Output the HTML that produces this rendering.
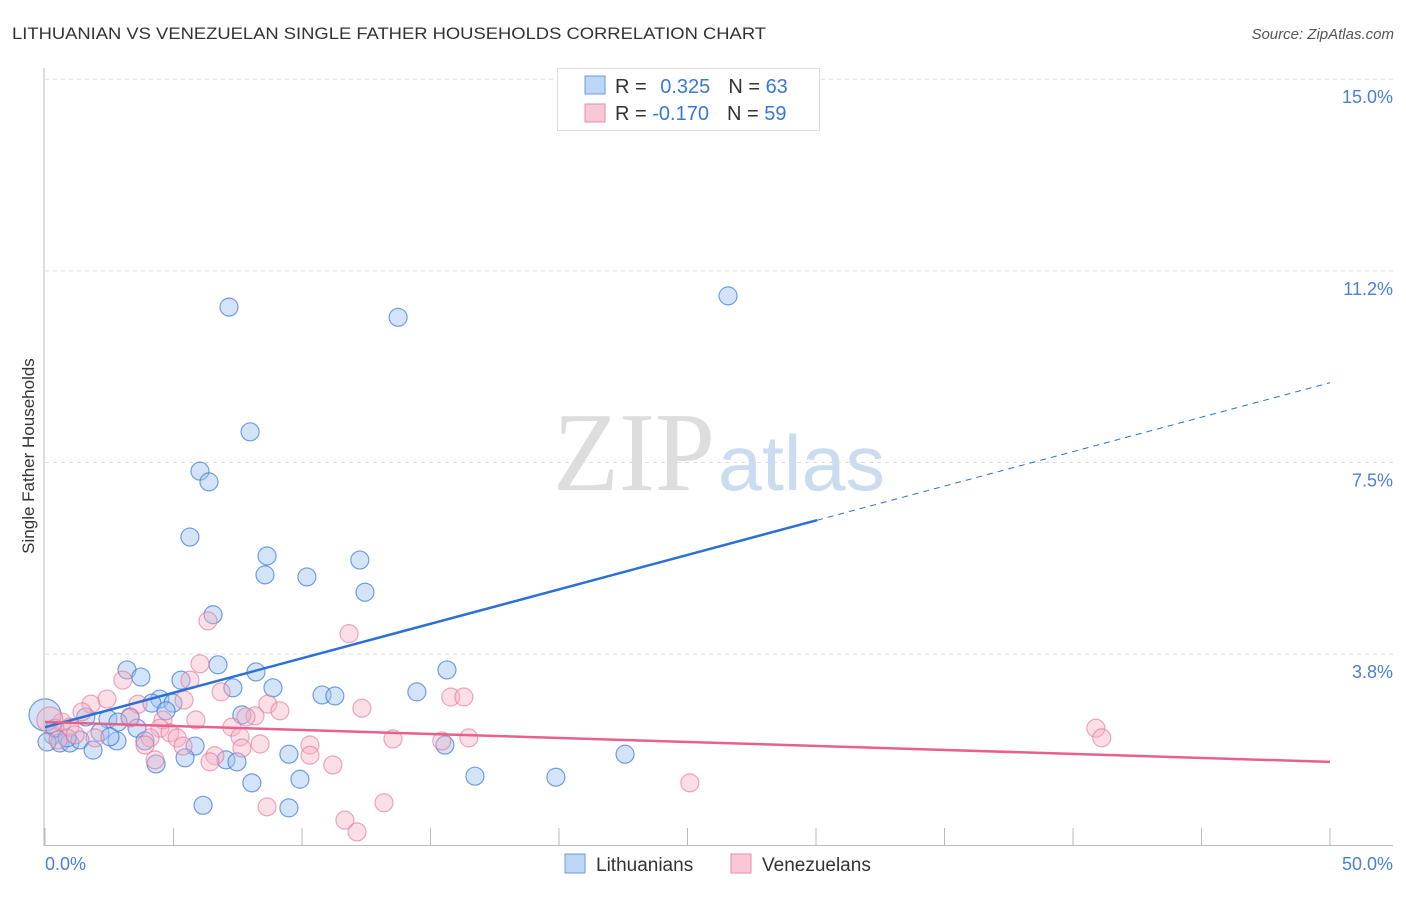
<!DOCTYPE html>
<html><head><meta charset="utf-8"><style>
body{margin:0;background:#fff;font-family:"Liberation Sans",sans-serif}
</style></head><body>
<svg id="c" width="1406" height="892" xmlns="http://www.w3.org/2000/svg">
<text x="12" y="39" font-size="17" fill="#333" textLength="754" lengthAdjust="spacingAndGlyphs">LITHUANIAN VS VENEZUELAN SINGLE FATHER HOUSEHOLDS CORRELATION CHART</text>
<text x="1394" y="39" font-size="15" fill="#555" font-style="italic" text-anchor="end">Source: ZipAtlas.com</text>
<text x="34" y="456" font-size="17" fill="#333" text-anchor="middle" transform="rotate(-90 34 456)">Single Father Households</text>
<text x="715" y="490" font-size="112" fill="#ddd" font-family="Liberation Serif" text-anchor="end" textLength="162" lengthAdjust="spacingAndGlyphs">ZIP</text>
<text x="718" y="490" font-size="78" fill="#c9dcf0" textLength="167" lengthAdjust="spacingAndGlyphs">atlas</text>
<g id="grid"></g><g id="pts"></g><g id="lines"></g>
<line x1="44" y1="68" x2="44" y2="846" stroke="#bbb"/>
<line x1="44" y1="845.5" x2="1393" y2="845.5" stroke="#bbb"/>
<text x="45" y="870" font-size="18" fill="#4a7fd6">0.0%</text>
<text x="1393" y="870" font-size="18" fill="#4a7fd6" text-anchor="end">50.0%</text>
<g>
<rect x="557.5" y="68.5" width="262" height="62" fill="#fff" stroke="#ddd"/>
<rect x="585" y="76" width="20" height="18" fill="#bcd6f5" stroke="#6c9be0"/>
<rect x="585" y="104" width="20" height="18" fill="#f8c8d6" stroke="#e88aa6"/>
<text x="615" y="93" font-size="20" fill="#333">R = <tspan fill="#3a78d6" dx="8">0.325</tspan><tspan dx="18" fill="#333">N = </tspan><tspan fill="#3a78d6">63</tspan></text>
<text x="615" y="120" font-size="20" fill="#333">R = <tspan fill="#3a78d6">-0.170</tspan><tspan dx="18" fill="#333">N = </tspan><tspan fill="#3a78d6">59</tspan></text>
</g>
<g>
<rect x="565" y="854" width="20" height="19" fill="#bcd6f5" stroke="#6c9be0"/>
<text x="596" y="871" font-size="19" fill="#333">Lithuanians</text>
<rect x="731" y="854" width="20" height="19" fill="#f8c8d6" stroke="#e88aa6"/>
<text x="762" y="871" font-size="19" fill="#333">Venezuelans</text>
</g>
</svg>
<script>
const yTicks=[15.0,11.25,7.5,3.75];
const yTickLabels=["15.0%","11.2%","7.5%","3.8%"];
const xTicks=[0,5,10,15,20,25,30,35,40,45,50];
const lithX=[7.16,13.74,26.58,7.98,6.03,6.38,5.64,8.64,8.56,10.19,12.25,12.45,6.54,6.73,3.19,3.73,8.21,5.29,7.31,8.87,14.47,10.78,11.28,15.64,4.47,4.98,4.16,4.71,7.66,1.59,3.31,2.45,2.84,3.58,2.14,0.31,0.58,0.97,1.36,1.87,2.80,3.89,5.84,5.45,4.32,7.04,7.47,9.49,15.56,22.57,16.73,19.88,8.05,9.92,6.15,9.49,0.0,0.39,0.86,0.08,2.53];
const lithY=[10.54,10.34,10.76,8.10,7.33,7.12,6.04,5.67,5.30,5.26,5.59,4.96,4.52,3.54,3.44,3.30,3.40,3.24,3.09,3.09,3.01,2.95,2.93,3.44,2.87,2.79,2.79,2.64,2.56,2.52,2.52,2.48,2.42,2.30,2.22,2.16,2.01,2.01,2.07,1.87,2.05,2.05,1.95,1.72,1.60,1.68,1.64,1.79,1.97,1.79,1.36,1.34,1.23,1.30,0.79,0.74,2.56,2.30,2.11,2.03,2.13];
const venX=[6.34,11.83,6.03,3.03,5.64,2.41,1.79,3.62,5.41,8.67,6.85,12.33,9.14,1.44,3.31,4.59,8.17,7.82,7.27,5.87,4.47,4.86,5.14,0.66,0.97,1.95,4.09,3.89,5.37,7.59,8.37,10.31,7.66,6.61,6.42,10.31,11.20,13.54,15.44,16.49,15.79,16.30,40.89,41.12,25.09,8.64,11.67,12.14,13.19,4.28,0.19,0.51,1.17];
const venY=[4.40,4.15,3.56,3.24,3.24,2.87,2.77,2.77,2.85,2.77,3.01,2.69,2.64,2.62,2.50,2.46,2.54,2.52,2.32,2.46,2.30,2.21,2.11,2.42,2.32,2.11,2.11,1.97,1.95,2.13,1.99,1.97,1.91,1.76,1.64,1.77,1.58,2.09,2.05,2.11,2.91,2.91,2.30,2.11,1.23,0.76,0.50,0.27,0.84,1.68,2.46,2.07,2.17];
const lithTrend=[2.32,9.06]; const lithSolidEnd=30.04;
const venTrend=[2.42,1.64];
const NS="http://www.w3.org/2000/svg";
const X=v=>45+v/50*1285, Y=v=>845.7-v*51.1;
function mk(t,a,p){const e=document.createElementNS(NS,t);for(const k in a)e.setAttribute(k,a[k]);p.appendChild(e);return e;}
const grid=document.getElementById('grid'),pts=document.getElementById('pts'),lines=document.getElementById('lines');
yTicks.forEach((v,i)=>{
 const l=mk('line',{x1:45,x2:1393,y1:Y(v),y2:Y(v),stroke:'#ddd','stroke-dasharray':'4 4'},grid);
 
 
 const t=mk('text',{x:1393,y:Y(v)+24,'font-size':18,fill:'#4a7fd6','text-anchor':'end'},grid);
 t.textContent=yTickLabels[i];
 
 
});
xTicks.forEach(v=>{
 const l=mk('line',{x1:X(v),x2:X(v),y1:828,y2:845,stroke:'#bbb'},grid);
 
 
});
lithX.forEach((x,i)=>{
 const c=mk('circle',{cx:X(x),cy:Y(lithY[i]),r:i==56?16:9,fill:'rgba(160,196,240,0.45)',stroke:'rgba(60,120,215,0.7)','stroke-width':1.2},pts);
 
 
});
venX.forEach((x,i)=>{
 const c=mk('circle',{cx:X(x),cy:Y(venY[i]),r:i==50?13:9,fill:'rgba(245,175,195,0.4)',stroke:'rgba(230,110,150,0.6)','stroke-width':1.2},pts);
 
 
});
const ly=x=>lithTrend[0]+(lithTrend[1]-lithTrend[0])*x/50;
let l1=mk('line',{x1:X(0),y1:Y(ly(0)),x2:X(lithSolidEnd),y2:Y(ly(lithSolidEnd)),stroke:'#2a70d6','stroke-width':2.5},lines);


let l2=mk('line',{x1:X(lithSolidEnd),y1:Y(ly(lithSolidEnd)),x2:X(50),y2:Y(ly(50)),stroke:'#2a70d6','stroke-width':1,'stroke-dasharray':'6 5'},lines);


let l3=mk('line',{x1:X(0),y1:Y(venTrend[0]),x2:X(50),y2:Y(venTrend[1]),stroke:'#e8608c','stroke-width':2.5},lines);


</script>
</body></html>
